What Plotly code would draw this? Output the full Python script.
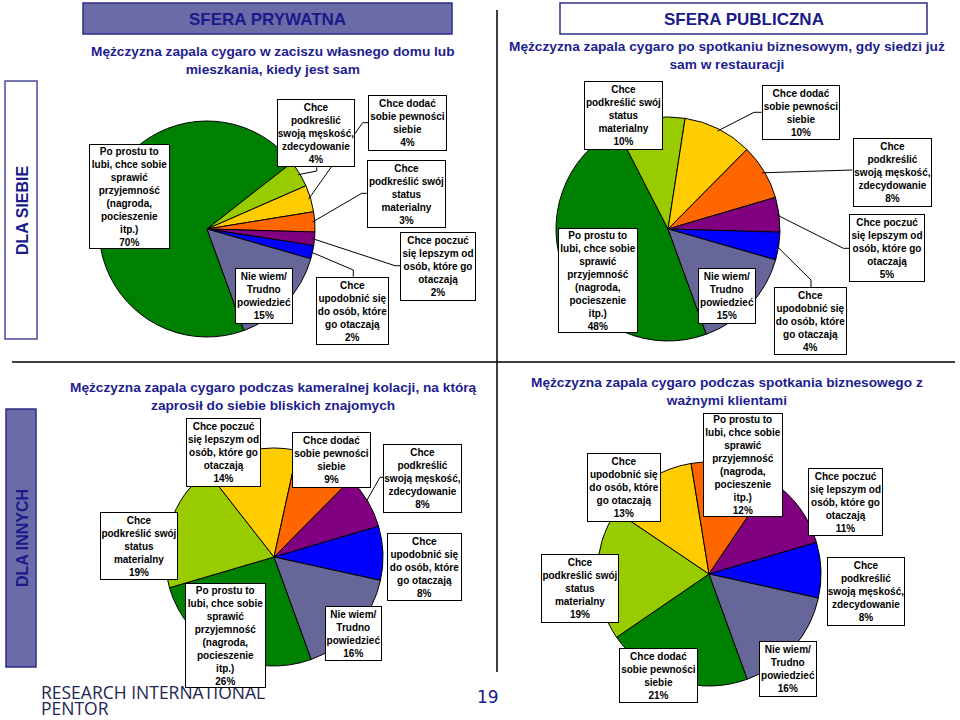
import math
import plotly.graph_objects as go

W, H = 960, 720

# ---------------- data ----------------
slice_colors = ['#008000', '#99CC00', '#FFCC00', '#FF6600', '#800080', '#0000FF', '#666699']

label_text = {
    'po_prostu': 'Po prostu to<br>lubi, chce sobie<br>sprawić<br>przyjemność<br>(nagroda,<br>pocieszenie<br>itp.)',
    'meskosc': 'Chce<br>podkreślić<br>swoją męskość,<br>zdecydowanie',
    'dodac': 'Chce dodać<br>sobie pewności<br>siebie',
    'status': 'Chce<br>podkreślić swój<br>status<br>materialny',
    'poczuc': 'Chce poczuć<br>się lepszym od<br>osób, które go<br>otaczają',
    'upodobnic': 'Chce<br>upodobnić się<br>do osób, które<br>go otaczają',
    'nie_wiem': 'Nie wiem/<br>Trudno<br>powiedzieć',
}

pie1_cats = ['po_prostu', 'meskosc', 'dodac', 'status', 'poczuc', 'upodobnic', 'nie_wiem']
pie1_vals = [70, 4, 4, 3, 2, 2, 15]
pie2_cats = ['po_prostu', 'status', 'dodac', 'meskosc', 'poczuc', 'upodobnic', 'nie_wiem']
pie2_vals = [48, 10, 10, 8, 5, 4, 15]
pie3_cats = ['po_prostu', 'status', 'poczuc', 'dodac', 'meskosc', 'upodobnic', 'nie_wiem']
pie3_vals = [26, 19, 14, 9, 8, 8, 16]
pie4_cats = ['dodac', 'status', 'upodobnic', 'po_prostu', 'poczuc', 'meskosc', 'nie_wiem']
pie4_vals = [21, 19, 13, 12, 11, 8, 16]

titles = [
    'Mężczyzna zapala cygaro w zaciszu własnego domu lub<br>mieszkania, kiedy jest sam',
    'Mężczyzna zapala cygaro po spotkaniu biznesowym, gdy siedzi już<br>sam w restauracji',
    'Mężczyzna zapala cygaro podczas kameralnej kolacji, na którą<br>zaprosił do siebie bliskich znajomych',
    'Mężczyzna zapala cygaro podczas spotkania biznesowego z<br>ważnymi klientami',
]

# ---------------- layout (pixels) ----------------
ROTATION = 160
pie_geom = [(207, 229, 108), (668, 229, 112), (274, 557, 109), (709, 574, 112)]
title_pos = [(273, 60), (727, 56), (273, 396), (727, 392)]

# label boxes: (cx, cy, w, h)
boxes = [
    {'po_prostu': (129.5, 196.5, 81, 105), 'meskosc': (316, 133, 78, 68),
     'dodac': (407.5, 123, 79, 56), 'status': (406.5, 194, 79, 68),
     'poczuc': (438, 266.5, 76, 69), 'upodobnic': (352.5, 311, 73, 68),
     'nie_wiem': (264, 296, 58, 56)},
    {'status': (623.5, 115.5, 79, 69), 'dodac': (801, 112.5, 78, 55),
     'meskosc': (892.5, 172.5, 79, 69), 'poczuc': (887, 248, 76, 68),
     'upodobnic': (810.5, 321, 73, 68), 'nie_wiem': (727, 296, 58, 56),
     'po_prostu': (598, 280.5, 80, 105)},
    {'poczuc': (223.5, 452.5, 75, 69), 'dodac': (331.5, 460, 79, 56),
     'meskosc': (422.5, 478.5, 79, 69), 'status': (139, 546, 78, 68),
     'upodobnic': (424.5, 567, 75, 68), 'nie_wiem': (353.5, 633.5, 57, 55),
     'po_prostu': (225.5, 635.5, 81, 105)},
    {'upodobnic': (624, 487.5, 74, 69), 'po_prostu': (743, 465, 80, 104),
     'poczuc': (845.5, 502, 75, 68), 'status': (580, 588.5, 78, 69),
     'meskosc': (866, 591.5, 78, 69), 'dodac': (658.5, 675.5, 79, 55),
     'nie_wiem': (788, 669, 58, 56)},
]

# leader lines: pie index, category, elbow points starting at the box
leaders = [
    (0, 'meskosc', [(316.7, 167.3), (316.7, 171)]),
    (0, 'dodac', [(368.7, 122.7), (362.7, 122.7)]),
    (0, 'status', [(366.7, 193.3), (361.7, 193.3)]),
    (0, 'poczuc', [(400, 265.7), (395, 265.7)]),
    (0, 'upodobnic', [(353.3, 276.7), (353.3, 270)]),
    (1, 'dodac', [(761.7, 112.3), (754, 112.3)]),
    (1, 'meskosc', [(852.3, 170)]),
    (1, 'poczuc', [(850, 248.3), (843.3, 248.3)]),
    (1, 'upodobnic', [(811, 287.3), (811, 280)]),
    (2, 'meskosc', [(383.3, 477.3), (380, 477.3)]),
]

NAVY = '#1A1A8A'
TITLE_C = '#1E1E90'
SLATE_FILL = '#6B6BA8'
BORDER = '#2E2E85'
FONT = 'Liberation Sans, Arial, sans-serif'


def px(x):
    return x / W


def py(y):
    return 1 - y / H


pies = [(pie1_cats, pie1_vals), (pie2_cats, pie2_vals), (pie3_cats, pie3_vals), (pie4_cats, pie4_vals)]

fig = go.Figure()
for (cats, vals), (cx, cy, r) in zip(pies, pie_geom):
    fig.add_trace(go.Pie(
        labels=cats, values=vals, sort=False, direction='clockwise', rotation=ROTATION,
        marker=dict(colors=slice_colors, line=dict(color='black', width=1)),
        textinfo='none', hoverinfo='label+percent', showlegend=False,
        domain=dict(x=[px(cx - r), px(cx + r)], y=[py(cy + r), py(cy - r)]),
    ))


def slice_point(pie_idx, cat, frac=0.98):
    cats, vals = pies[pie_idx]
    cx, cy, r = pie_geom[pie_idx]
    total = sum(vals)
    i = cats.index(cat)
    before = sum(vals[:i])
    theta = math.radians(ROTATION + 360 * (before + vals[i] / 2) / total)
    return cx + frac * r * math.sin(theta), cy - frac * r * math.cos(theta)


shapes = []
annotations = []

# logo & page number (drawn first so label boxes sit on top)
annotations.append(dict(xref='paper', yref='paper', x=px(39), y=py(692), showarrow=False,
                        xanchor='left', yanchor='middle', text='RESEARCH INTERNATIONAL',
                        font=dict(family='Open Sans, sans-serif', size=17.5, color='#1E2752')))
annotations.append(dict(xref='paper', yref='paper', x=px(39), y=py(708), showarrow=False,
                        xanchor='left', yanchor='middle', text='PENTOR',
                        font=dict(family='Open Sans, sans-serif', size=17.5, color='#1E2752')))
annotations.append(dict(xref='paper', yref='paper', x=px(488), y=py(697), showarrow=False,
                        xanchor='center', yanchor='middle', text='19',
                        font=dict(family='DejaVu Sans, sans-serif', size=17, color=NAVY)))

# leader lines
for pie_idx, cat, pts in leaders:
    end = slice_point(pie_idx, cat)
    allpts = pts + [end]
    path = 'M ' + ' L '.join(f'{px(x):.5f},{py(y):.5f}' for x, y in allpts)
    shapes.append(dict(type='path', xref='paper', yref='paper', path=path,
                       line=dict(color='black', width=1), layer='above'))

# label boxes
for pie_idx, (cats, vals) in enumerate(pies):
    for cat, v in zip(cats, vals):
        cx, cy, w, h = boxes[pie_idx][cat]
        annotations.append(dict(
            xref='paper', yref='paper', x=px(cx), y=py(cy), xanchor='center', yanchor='middle',
            showarrow=False, text=f'{label_text[cat]}<br>{v}%', align='center',
            width=w - 2, height=h - 2, borderpad=0, bgcolor='white', bordercolor='black', borderwidth=1,
            font=dict(family=FONT, size=10, color='black', weight='bold')))

# titles
for t, (tx, ty) in zip(titles, title_pos):
    annotations.append(dict(xref='paper', yref='paper', x=px(tx), y=py(ty), xanchor='center', yanchor='middle',
                            showarrow=False, text=t, align='center',
                            font=dict(family=FONT, size=13.7, color=TITLE_C, weight='bold')))

# header boxes
shapes.append(dict(type='rect', xref='paper', yref='paper', x0=px(83), x1=px(452), y0=py(34), y1=py(3),
                   fillcolor=SLATE_FILL, line=dict(color=BORDER, width=1.5), layer='above'))
shapes.append(dict(type='rect', xref='paper', yref='paper', x0=px(560), x1=px(927), y0=py(34), y1=py(3),
                   fillcolor='white', line=dict(color=BORDER, width=1.5), layer='above'))
annotations.append(dict(xref='paper', yref='paper', x=px(267.5), y=py(19), showarrow=False,
                        xanchor='center', yanchor='middle', text='SFERA PRYWATNA',
                        font=dict(family=FONT, size=17, color=NAVY, weight='bold')))
annotations.append(dict(xref='paper', yref='paper', x=px(743.5), y=py(19), showarrow=False,
                        xanchor='center', yanchor='middle', text='SFERA PUBLICZNA',
                        font=dict(family=FONT, size=17, color=NAVY, weight='bold')))

# side boxes
shapes.append(dict(type='rect', xref='paper', yref='paper', x0=px(5), x1=px(37), y0=py(339), y1=py(81),
                   fillcolor='white', line=dict(color='#4A4A9A', width=1.5), layer='above'))
shapes.append(dict(type='rect', xref='paper', yref='paper', x0=px(6), x1=px(36), y0=py(667), y1=py(409),
                   fillcolor=SLATE_FILL, line=dict(color=BORDER, width=1.5), layer='above'))
annotations.append(dict(xref='paper', yref='paper', x=px(22), y=py(210), showarrow=False, textangle=-90,
                        xanchor='center', yanchor='middle', text='DLA SIEBIE',
                        font=dict(family=FONT, size=16, color=NAVY, weight='bold')))
annotations.append(dict(xref='paper', yref='paper', x=px(22), y=py(538), showarrow=False, textangle=-90,
                        xanchor='center', yanchor='middle', text='DLA INNYCH',
                        font=dict(family=FONT, size=16, color=NAVY, weight='bold')))

# divider lines
shapes.append(dict(type='line', xref='paper', yref='paper', x0=px(497), x1=px(497), y0=py(10), y1=py(672),
                   line=dict(color='black', width=1.5), layer='below'))
shapes.append(dict(type='line', xref='paper', yref='paper', x0=px(12), x1=px(955), y0=py(362), y1=py(362),
                   line=dict(color='black', width=1.5), layer='below'))

fig.update_layout(width=W, height=H, margin=dict(l=0, r=0, t=0, b=0),
                  paper_bgcolor='white', plot_bgcolor='white',
                  shapes=shapes, annotations=annotations)

fig.write_html('out.html', config={'displayModeBar': False},
               post_script="document.body.style.margin='0';document.body.style.overflow='hidden';")
